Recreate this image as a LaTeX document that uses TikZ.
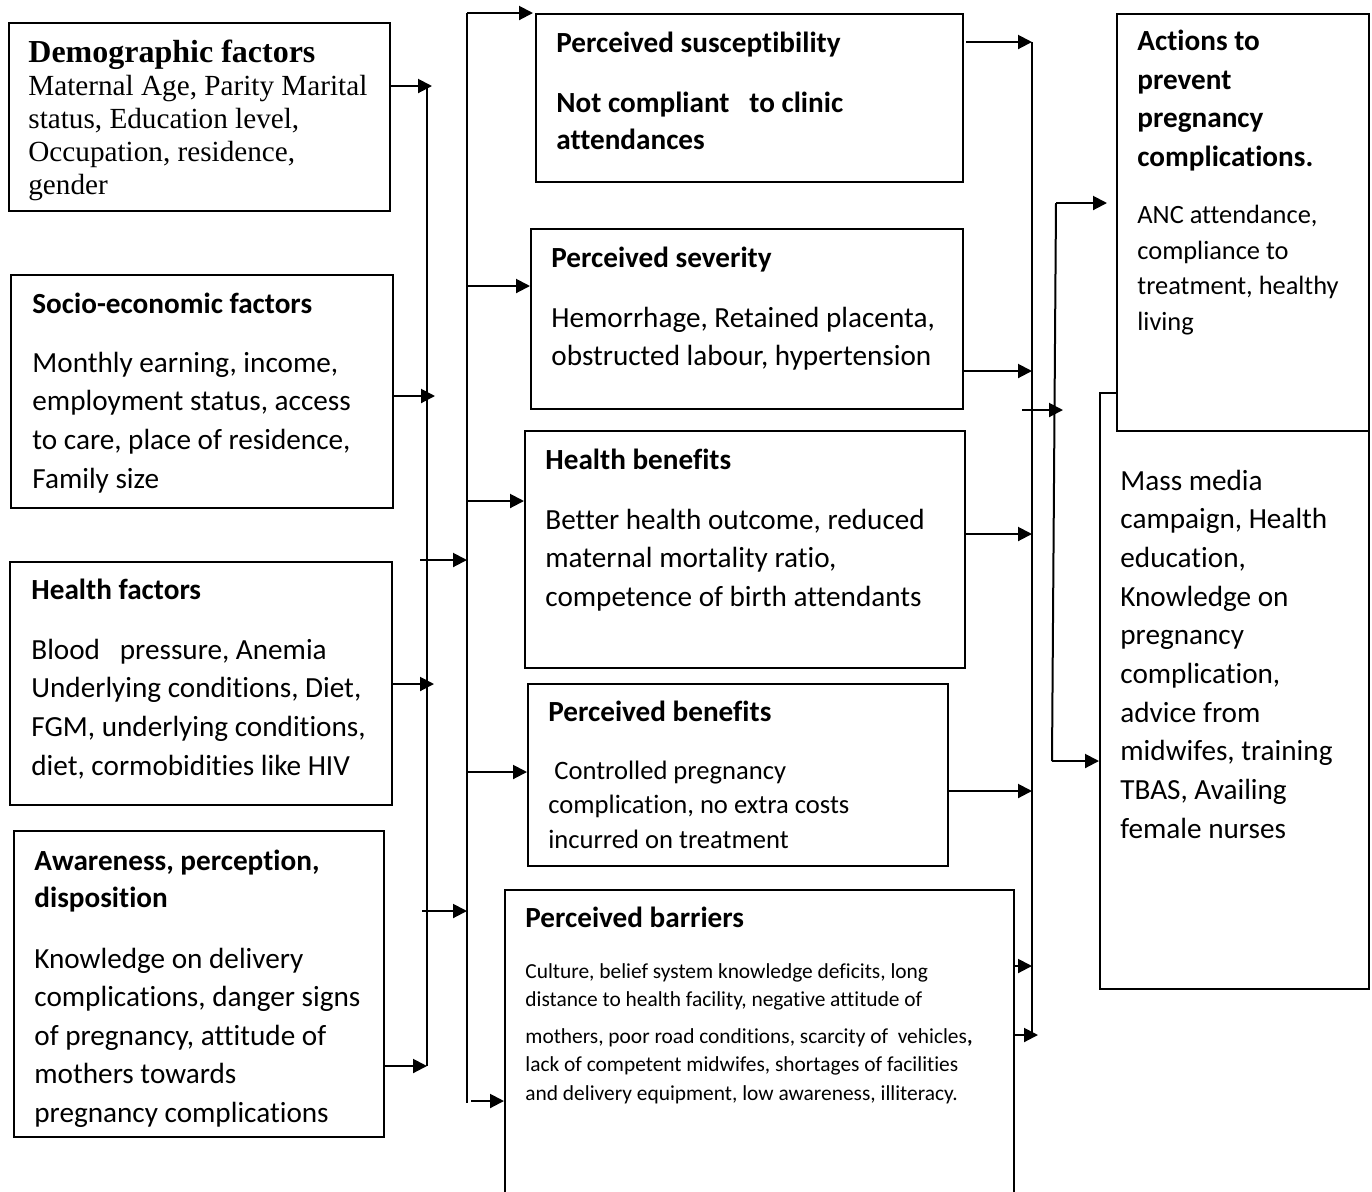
\documentclass[tikz,border=0pt]{standalone}
\usepackage{fontspec}
\setmainfont{Carlito}[Ligatures=NoCommon]
\newfontfamily\timesfont{Liberation Serif}
\usetikzlibrary{arrows.meta}

\begin{document}
\begin{tikzpicture}[x=0.5pt, y=-0.5pt,
	box/.style={draw, line width=1pt, inner sep=0pt, anchor=north west},
	txt/.style={inner sep=0pt, anchor=base west, align=left},
	title/.style={txt, font=\bfseries\fontsize{14.6}{19.3}\selectfont},
	arr/.style={line width=1pt, -{Triangle[length=7pt, width=7pt]}},
	bus/.style={line width=1pt}]
	\useasboundingbox (0,0) rectangle (1372,1191);
	%Boites de gauche
	\node[box, minimum width=190.5pt, minimum height=94pt] (demo) at (8,22) {};
	\node[box, minimum width=191pt, minimum height=116.5pt] (socio) at (10,274) {};
	\node[box, minimum width=191pt, minimum height=121.5pt] (health) at (9,561) {};
	\node[box, minimum width=185pt, minimum height=153pt] (aware) at (13,830) {};
	%Boites du milieu
	\node[box, minimum width=213.5pt, minimum height=84pt] (suscept) at (535,13) {};
	\node[box, minimum width=216pt, minimum height=90pt] (severity) at (530,228) {};
	\node[box, minimum width=220pt, minimum height=118.5pt] (healthben) at (524,430) {};
	\node[box, minimum width=210pt, minimum height=91pt] (percben) at (527,683) {};
	\node[box, minimum width=254.5pt, minimum height=160pt] (barriers) at (504,889) {};
	%Boites de droite
	\node[box, minimum width=134.5pt, minimum height=298pt] (lower) at (1099,392) {};
	\node[box, fill=white, minimum width=126pt, minimum height=208.5pt] (actions) at (1116,13) {};

	%Textes (ancre sur la ligne de base de la derniere ligne)
	\node[txt, font=\timesfont\bfseries\fontsize{16}{18}\selectfont] (demot) at (28,62) {Demographic factors};
	\node[txt, font=\timesfont\fontsize{14.6}{16.5}\selectfont] (demob) at (28,194) {Maternal Age, Parity Marital\\status, Education level,\\Occupation, residence,\\gender};
	\node[title] (sociot) at (32,313) {Socio-economic factors};
	\node[txt, font=\fontsize{14.6}{19.33}\selectfont] (sociob) at (32,488) {Monthly earning, income,\\employment status, access\\to care, place of residence,\\Family size};
	\node[title] (healtht) at (31,599) {Health factors};
	\node[txt, font=\fontsize{14.6}{19.33}\selectfont] (healthb) at (31,775) {Blood~~~pressure, Anemia\\Underlying conditions, Diet,\\FGM, underlying conditions,\\diet, cormobidities like HIV};
	\node[title, font=\bfseries\fontsize{14.6}{18.5}\selectfont] (awaret) at (34,907) {Awareness, perception,\\disposition};
	\node[txt, font=\fontsize{14.6}{19.25}\selectfont] (awareb) at (34,1122) {Knowledge on delivery\\complications, danger signs\\of pregnancy, attitude of\\mothers towards\\pregnancy complications};

	\node[title] (susceptt) at (556,52) {Perceived susceptibility};
	\node[title, font=\bfseries\fontsize{14.6}{18.5}\selectfont] (susceptb) at (556,149) {Not compliant~~~to clinic\\attendances};
	\node[title] (severityt) at (551,267) {Perceived severity};
	\node[txt, font=\fontsize{14.6}{19}\selectfont] (severityb) at (551,365) {Hemorrhage, Retained placenta,\\obstructed labour, hypertension};
	\node[title] (healthbent) at (545,469) {Health benefits};
	\node[txt, font=\fontsize{14.6}{19.25}\selectfont] (healthbenb) at (545,606) {Better health outcome, reduced\\maternal mortality ratio,\\competence of birth attendants};
	\node[title] (percbent) at (548,721) {Perceived benefits};
	\node[txt, font=\fontsize{13.3}{17.25}\selectfont] (percbenb) at (548,848) {\hspace*{3pt}Controlled pregnancy\\complication, no extra costs\\incurred on treatment};
	\node[title] (barrierst) at (525,927) {Perceived barriers};
	\node[txt, font=\fontsize{10.7}{14.25}\selectfont] (barriersb) at (525,1100) {Culture, belief system knowledge deficits, long\\distance to health facility, negative attitude of\\[4pt]mothers, poor road conditions, scarcity of~~vehicles\textbf{,}\\lack of competent midwifes, shortages of facilities\\and delivery equipment, low awareness, illiteracy.};

	\node[title, font=\bfseries\fontsize{14.6}{19.2}\selectfont] (actionst) at (1137,166) {Actions to\\prevent\\pregnancy\\complications.};
	\node[txt, font=\fontsize{13.2}{17.7}\selectfont] (actionsb) at (1137,330) {ANC attendance,\\compliance to\\treatment, healthy\\living};
	\node[txt, font=\fontsize{14.6}{19.33}\selectfont] (lowerb) at (1120,838) {Mass media\\campaign, Health\\education,\\Knowledge on\\pregnancy\\complication,\\advice from\\midwifes, training\\TBAS, Availing\\female nurses};

	%Lignes verticales
	\coordinate (b1top) at (427,86);
	\coordinate (b1bot) at (427,1066);
	\coordinate (b2top) at (467,13);
	\coordinate (b2bot) at (467,1103);
	\coordinate (b3top) at (1032,42);
	\coordinate (b3bot) at (1032,1035);
	\coordinate (b4top) at (1056,203);
	\coordinate (b4bot) at (1052,761);
	\draw[bus] (b1top) -- (b1bot);
	\draw[bus] (b2top) -- (b2bot);
	\draw[bus] (b3top) -- (b3bot);
	\draw[bus] (b4top) -- (b4bot);

	%Fleches vers la premiere ligne
	\coordinate (b1s) at (427,396);
	\coordinate (b1h) at (427,684);
	\draw[arr, shorten >=-2.5pt] (demo.east |- b1top) -- (b1top);
	\draw[arr, shorten >=-4pt] (socio.east |- b1s) -- (b1s);
	\draw[arr, shorten >=-3.5pt] (health.east |- b1h) -- (b1h);
	\draw[arr] (aware.east |- b1bot) -- (b1bot);

	%Fleches vers la deuxieme ligne
	\coordinate (f1) at (420,560);
	\coordinate (f2) at (422,911);
	\draw[arr] (f1) -- (b2top |- f1);
	\draw[arr] (f2) -- (b2top |- f2);

	%Fleches vers les boites du milieu
	\coordinate (b2sev) at (467,286);
	\coordinate (b2hb) at (467,501);
	\coordinate (b2pb) at (467,772);
	\coordinate (b2bar) at (471,1101);
	\draw[arr, shorten >=1pt] (b2top) -- (suscept.north west);
	\draw[arr] (b2sev) -- (severity.west |- b2sev);
	\draw[arr] (b2hb) -- (healthben.west |- b2hb);
	\draw[arr] (b2pb) -- (percben.west |- b2pb);
	\draw[arr] (b2bar) -- (barriers.west |- b2bar);

	%Fleches vers la troisieme ligne
	\coordinate (f3) at (966,42);
	\coordinate (b3sev) at (1032,371);
	\coordinate (b3hb) at (1032,534);
	\coordinate (b3pb) at (1032,791);
	\coordinate (b3bar) at (1032,966);
	\draw[arr] (f3) -- (b3top);
	\draw[arr] (severity.east |- b3sev) -- (b3sev);
	\draw[arr] (healthben.east |- b3hb) -- (b3hb);
	\draw[arr] (percben.east |- b3pb) -- (b3pb);
	\draw[arr] (barriers.east |- b3bar) -- (b3bar);
	\draw[arr, shorten >=-3pt] (barriers.east |- b3bot) -- (b3bot);

	%Fleches vers la droite
	\coordinate (f4) at (1022,410);
	\coordinate (b4mid) at (1055,410);
	\draw[arr, shorten >=-4pt] (f4) -- (b4mid);
	\draw[arr, shorten >=4.5pt] (b4top) -- (actions.west |- b4top);
	\draw[arr] (b4bot) -- (lower.west |- b4bot);
\end{tikzpicture}
\end{document}
